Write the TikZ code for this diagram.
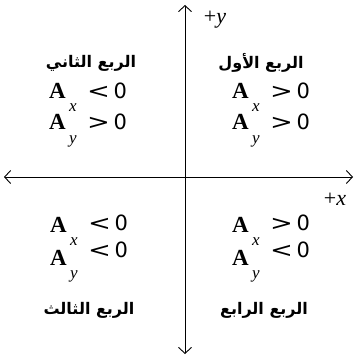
\documentclass[tikz,border=0pt]{standalone}
\usepackage{graphicx}
\usepackage{fontspec}
\setmainfont{Liberation Serif}
\newfontfamily\arabicfont[Script=Arabic]{DejaVu Sans}
\newfontfamily\ineqfont{DejaVu Sans}
\TeXXeTstate=1
\usetikzlibrary{arrows.meta}

% one component: name, left x, baseline of A, subscript, sign, baseline of sign
\newcommand{\compline}[6]{%
  \node[avec] (#1) at (#2,#3) {A};
  \node[subs] (#1s) at ([xshift=3pt,yshift=-13pt]#1.base east) {#4};
  \node[sign] (#1g) at (#2+38,#6) {#5};
}
\newcommand{\lt}{\scalebox{1.3}[1]{<}\,0}
\newcommand{\gt}{\scalebox{1.3}[1]{>}\,0}

\begin{document}
\begin{tikzpicture}[x=1pt, y=-1pt,
    axis/.style={line width=0.9pt, {Straight Barb[length=6pt,width=13pt]}-{Straight Barb[length=6pt,width=13pt]}},
    quad/.style={inner sep=0pt, font=\arabicfont\bfseries\fontsize{16}{18}\selectfont},
    avec/.style={anchor=base west, inner sep=0pt, font=\bfseries\fontsize{23}{25}\selectfont},
    subs/.style={anchor=base west, inner sep=0pt, font=\itshape\fontsize{17}{19}\selectfont},
    sign/.style={anchor=base west, inner sep=0pt, font=\ineqfont\fontsize{21}{23}\selectfont},
    axlabel/.style={inner sep=0pt, font=\fontsize{22}{24}\selectfont}
  ]
  \useasboundingbox (0,0) rectangle (356,358);

  % axes
  \coordinate (top) at (185,5);
  \coordinate (bottom) at (185,354);
  \coordinate (left) at (4,177);
  \coordinate (right) at (353,177);
  \draw[axis] (bottom) -- (top);
  \draw[axis] (left) -- (right);
  \node[axlabel] (ylab) at (215,20) {+\textit{y}};
  \node[axlabel] (xlab) at (335,199) {+\textit{x}};

  % first quadrant
  \node[quad] (q1) at (261,63) {\beginR الربع الأول\endR};
  \compline{q1x}{232}{99}{x}{\gt}{99}
  \compline{q1y}{232}{130}{y}{\gt}{130}

  % second quadrant
  \node[quad] (q2) at (91,63) {\beginR الربع الثاني\endR};
  \compline{q2x}{49}{99}{x}{\lt}{99}
  \compline{q2y}{49}{130}{y}{\gt}{130}

  % third quadrant
  \compline{q3x}{50}{232}{x}{\lt}{230}
  \compline{q3y}{50}{265}{y}{\lt}{257}
  \node[quad] (q3) at (89,310) {\beginR الربع الثالث\endR};

  % fourth quadrant
  \compline{q4x}{232}{232}{x}{\gt}{230}
  \compline{q4y}{232}{265}{y}{\lt}{257}
  \node[quad] (q4) at (264,310) {\beginR الربع الرابع\endR};
\end{tikzpicture}
\end{document}
